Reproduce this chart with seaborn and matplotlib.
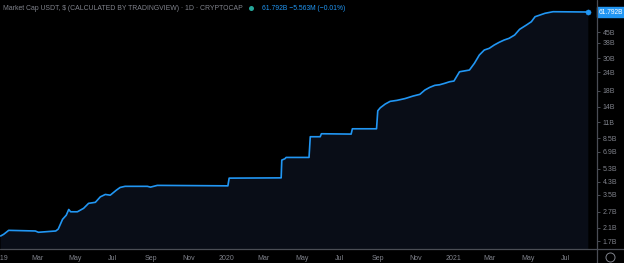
import matplotlib
matplotlib.use("Agg")
import matplotlib.pyplot as plt
import seaborn as sns
import pandas as pd
from matplotlib.lines import Line2D

# ---- data (market cap in billions USD) ----
dates = [
    "2019-01-01", "2019-01-06", "2019-01-14", "2019-02-26", "2019-03-03", "2019-03-31",
    "2019-04-04", "2019-04-11", "2019-04-17", "2019-04-21", "2019-04-24", "2019-05-05",
    "2019-05-15", "2019-05-23", "2019-06-03", "2019-06-11", "2019-06-19", "2019-06-27",
    "2019-07-07", "2019-07-13", "2019-07-21", "2019-08-26", "2019-08-31", "2019-09-11",
    "2020-01-03", "2020-01-05", "2020-03-29", "2020-03-30", "2020-04-04", "2020-04-06",
    "2020-05-13", "2020-05-15", "2020-05-31", "2020-06-02", "2020-07-20", "2020-07-22",
    "2020-08-30", "2020-09-01", "2020-09-05", "2020-09-13", "2020-09-21", "2020-10-02",
    "2020-10-15", "2020-10-28", "2020-11-08", "2020-11-16", "2020-11-24", "2020-12-02",
    "2020-12-10", "2020-12-18", "2020-12-26", "2021-01-02", "2021-01-11", "2021-01-27",
    "2021-02-04", "2021-02-12", "2021-02-20", "2021-02-28", "2021-03-08", "2021-03-16",
    "2021-03-24", "2021-04-01", "2021-04-10", "2021-04-18", "2021-04-29", "2021-05-07",
    "2021-05-13", "2021-05-21", "2021-05-29", "2021-06-11", "2021-08-07",
]
market_cap_b = [
    1.84, 1.89, 2.01, 1.99, 1.95, 1.99,
    2.05, 2.39, 2.55, 2.79, 2.69, 2.69,
    2.84, 3.07, 3.12, 3.40, 3.53, 3.49,
    3.78, 3.94, 4.01, 4.01, 3.96, 4.07,
    4.04, 4.56, 4.58, 6.05, 6.18, 6.31,
    6.31, 8.73, 8.73, 9.15, 9.10, 9.89,
    9.89, 13.12, 13.75, 14.58, 15.21, 15.45,
    15.89, 16.53, 16.98, 18.16, 18.95, 19.55,
    19.74, 20.18, 20.69, 20.92, 24.20, 24.86,
    27.62, 31.46, 34.03, 34.95, 36.81, 38.40,
    39.81, 40.89, 43.06, 47.09, 50.38, 53.06,
    57.40, 58.95, 60.55, 62.08, 61.792,
]

ytick_values = [1.7, 2.1, 2.7, 3.5, 4.3, 5.3, 6.9, 8.5, 11, 14, 18, 24, 30, 38, 45]
ytick_labels = ["1.7B", "2.1B", "2.7B", "3.5B", "4.3B", "5.3B", "6.9B", "8.5B",
                "11B", "14B", "18B", "24B", "30B", "38B", "45B"]
xtick_dates = ["2019-01-01", "2019-03-01", "2019-05-01", "2019-07-01", "2019-09-01",
               "2019-11-01", "2020-01-01", "2020-03-01", "2020-05-01", "2020-07-01",
               "2020-09-01", "2020-11-01", "2021-01-01", "2021-03-01", "2021-05-01",
               "2021-07-01"]
xtick_labels = ["2019", "Mar", "May", "Jul", "Sep", "Nov", "2020", "Mar", "May", "Jul",
                "Sep", "Nov", "2021", "Mar", "May", "Jul"]

title_text = "Market Cap USDT, $ (CALCULATED BY TRADINGVIEW) \u00b7 1D \u00b7 CRYPTOCAP"
value_text = "61.792B \u22125.563M (\u22120.01%)"
last_label = "61.792B"

df = pd.DataFrame({"date": pd.to_datetime(dates), "cap": market_cap_b})

# ---- styling ----
BG = "#000000"
LINE = "#2196f3"
FILL = "#090d17"
AXC = "#4a4d55"
TXT = "#80838c"

sns.set_style("dark", {"axes.facecolor": BG, "figure.facecolor": BG})
plt.rcParams["font.family"] = ["Liberation Sans", "DejaVu Sans"]

fig = plt.figure(figsize=(6.24, 2.63), dpi=100)
ax = fig.add_axes([0, 14 / 263, 597 / 624, 249 / 263])
ax.set_facecolor(BG)

ax.fill_between(df["date"], df["cap"], 0.5, color=FILL, zorder=0.3, linewidth=0)
sns.lineplot(data=df, x="date", y="cap", ax=ax, color=LINE, linewidth=1.2, zorder=3)
sns.scatterplot(data=df.tail(1), x="date", y="cap", ax=ax, color=LINE, s=14,
                edgecolor=LINE, zorder=4)

ax.set_yscale("log")
ax.set_ylim(1.50, 74.6)
ax.set_xlim(pd.Timestamp("2018-12-31"), pd.Timestamp("2021-08-21"))

ax.yaxis.tick_right()
ax.set_yticks(ytick_values)
ax.set_yticklabels(ytick_labels)
ax.yaxis.set_minor_locator(matplotlib.ticker.NullLocator())
ax.set_xticks(pd.to_datetime(xtick_dates))
ax.set_xticklabels(xtick_labels)
ax.tick_params(axis="both", colors=AXC, labelcolor=TXT, labelsize=5, length=2,
               width=0.7, pad=2)
ax.set_xlabel("")
ax.set_ylabel("")
ax.grid(False)

for s in ["top", "left", "right", "bottom"]:
    ax.spines[s].set_visible(False)

# price-scale and time-scale border lines spanning the figure
fig.add_artist(Line2D([0, 1], [14 / 263, 14 / 263], color=AXC, linewidth=0.9,
                      transform=fig.transFigure))
fig.add_artist(Line2D([597 / 624, 597 / 624], [0, 1], color=AXC, linewidth=0.9,
                      transform=fig.transFigure))

# last value label
ax.text(1.002, market_cap_b[-1], last_label, transform=ax.get_yaxis_transform(),
        ha="left", va="center", color="white", fontsize=4.8, clip_on=False,
        bbox=dict(boxstyle="square,pad=0.2", facecolor=LINE, edgecolor=LINE))

# header
fig.text(3 / 624, 1 - 8 / 263, title_text, color=TXT, fontsize=4.95, ha="left",
         va="center")
fig.add_artist(Line2D([251 / 624], [1 - 8 / 263], marker="o", markersize=3.6,
                      color="#26a69a", markeredgewidth=0, linestyle="none",
                      transform=fig.transFigure))
fig.text(262 / 624, 1 - 8 / 263, value_text, color=LINE, fontsize=4.9, ha="left",
         va="center")

# settings icon in the corner
fig.add_artist(Line2D([610 / 624], [6 / 263], marker="o", markersize=6.5,
                      markerfacecolor="none", markeredgecolor=TXT,
                      markeredgewidth=0.7, linestyle="none",
                      transform=fig.transFigure))

fig.savefig("out.png", dpi=100, facecolor=BG)
